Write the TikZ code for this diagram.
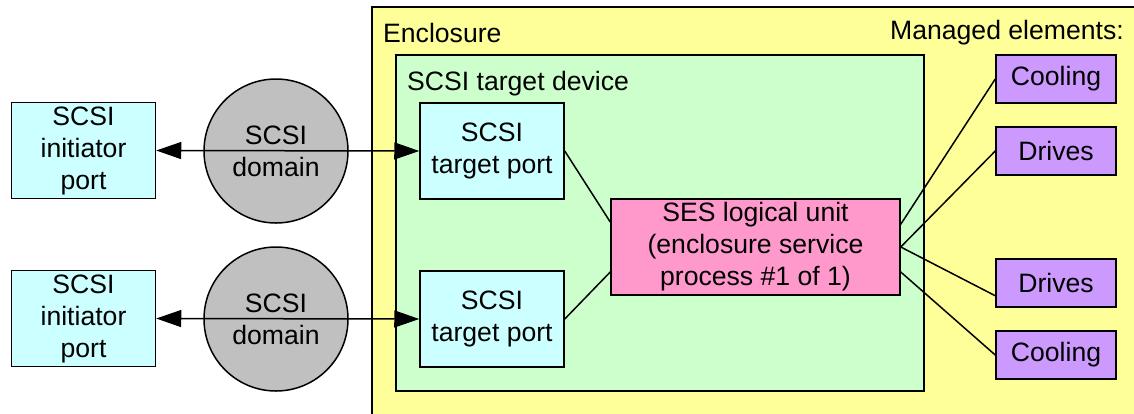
\documentclass[tikz,border=0pt]{standalone}
\usepackage{fontspec}
\setmainfont{Liberation Sans}
\usetikzlibrary{arrows.meta}
\definecolor{encl}{HTML}{FFFF99}
\definecolor{dev}{HTML}{CCFFCC}
\definecolor{port}{HTML}{CCFFFF}
\definecolor{ses}{HTML}{FF99CC}
\definecolor{elem}{HTML}{CC99FF}
\definecolor{dom}{HTML}{C0C0C0}
\tikzset{
  txt/.style={font=\fontsize{26.6}{32}\selectfont},
  box/.style={draw=black, line width=1.5pt, inner sep=0pt, align=center, txt},
  portbox/.style={box, fill=port, minimum width=144pt, minimum height=96pt},
  elembox/.style={box, fill=elem, minimum width=120pt, minimum height=48pt},
  sesbox/.style={box, fill=ses, minimum width=289pt, minimum height=96pt},
  domaincircle/.style={box, circle, fill=dom, minimum size=144pt},
  link/.style={line width=1.5pt},
  biarrow/.style={line width=1.5pt, {Triangle[length=25pt,width=17pt]}-{Triangle[length=25pt,width=17pt]}},
}
\begin{document}
\begin{tikzpicture}[x=1pt,y=-1pt]
\useasboundingbox (0,0) rectangle (1134,413);
\clip (0,0) rectangle (1134,413);
\fill[white] (0,0) rectangle (1134,413);
% enclosure
\draw[fill=encl, line width=1.5pt] (372,7) rectangle (1150,430);
\node[txt, anchor=base west, inner sep=0pt] (enclbl) at (383,42) {Enclosure};
\node[txt, anchor=base east, inner sep=0pt] (mgdlbl) at (1124,39) {Managed elements:};
% target device
\draw[fill=dev, line width=1.5pt] (396,55) rectangle (924,391);
\node[txt, anchor=base west, inner sep=0pt] (devlbl) at (407,90) {SCSI target device};
% ports
\node[portbox] (ip1) at (83.5,150.5) {SCSI\\initiator\\port};
\node[portbox] (ip2) at (83.5,318.5) {SCSI\\initiator\\port};
\node[portbox] (tp1) at (492,151) {SCSI\\target port};
\node[portbox] (tp2) at (492,319) {SCSI\\target port};
% domains
\node[domaincircle] (d1) at (276,151) {SCSI\\domain};
\node[domaincircle] (d2) at (276,319) {SCSI\\domain};
% SES
\node[sesbox] (ses) at (755.5,247) {SES logical unit\\(enclosure service\\process \#1 of 1)};
% managed elements
\node[elembox] (c1) at (1056,79) {Cooling};
\node[elembox] (dr1) at (1056,151) {Drives};
\node[elembox] (dr2) at (1056,283) {Drives};
\node[elembox] (c2) at (1056,355) {Cooling};
% arrows
\draw[biarrow] (ip1.east) -- (tp1.west);
\draw[biarrow] (ip2.east) -- (tp2.west);
% links
\draw[link] (tp1.east) -- ([yshift=25pt]ses.west);
\draw[link] (tp2.east) -- ([yshift=-25pt]ses.west);
\draw[link] ([yshift=-26pt]ses.north east) -- (c1.west);
\draw[link] (ses.east) -- (dr1.west);
\draw[link] (ses.east) -- ([yshift=12pt]dr2.south west);
\draw[link] ([yshift=-25pt]ses.east) -- (c2.west);
\end{tikzpicture}
\end{document}
